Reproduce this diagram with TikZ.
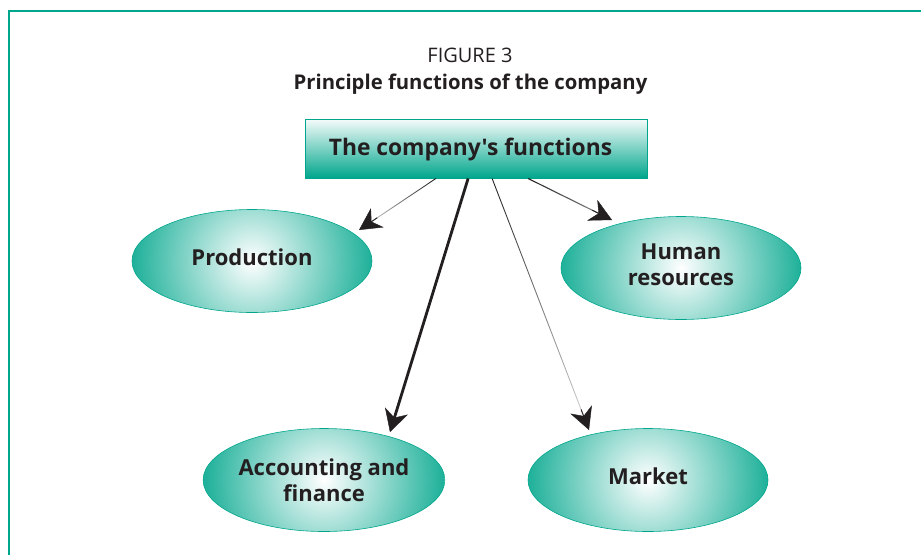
\documentclass[tikz,border=0pt]{standalone}
\usepackage{fontspec}
\setmainfont{Open Sans}
% separate family without TeX ligatures, so ' stays a straight apostrophe
\newfontfamily\basefont{Open Sans}
\usetikzlibrary{arrows.meta,calc,shapes.geometric,fadings}

\definecolor{brandteal}{RGB}{0,166,140}
\definecolor{inkgray}{RGB}{35,31,32}

% stroke fadings: opaque at the top, thinning out towards the bottom
\tikzfading[name=strokefade, top color=transparent!0, bottom color=transparent!80]
\tikzfading[name=strokefadesoft, top color=transparent!0, bottom color=transparent!45]

\begin{document}
\begin{tikzpicture}[x=1pt, y=-1pt,
  every node/.style={text=inkgray},
  oval/.style={ellipse, minimum width=240pt, minimum height=103pt, inner sep=0pt,
    draw=brandteal, line width=0.6pt, align=center,
    font=\basefont\fontsize{22}{26}\selectfont\bfseries,
    path picture={\shade[inner color=white, outer color=brandteal]
      (path picture bounding box.center) circle (136pt);}},
  headbox/.style={rectangle, minimum width=342pt, minimum height=59pt, inner sep=0pt,
    draw=brandteal, line width=1pt, top color=brandteal!4, bottom color=brandteal,
    font=\basefont\fontsize{22.8}{28}\selectfont\bfseries, text height=13pt, text depth=0pt},
  link/.style={draw=inkgray, line width=0.9pt},
  tipshape/.style={-{Stealth[length=22pt, width=23pt, inset=7pt, line width=0.4pt]}, draw=inkgray, fill=inkgray, line width=0.9pt},
  frameline/.style={draw=brandteal, line width=2pt}
]
\useasboundingbox (0,0) rectangle (921,555);

% outer frame (left and top edges)
\coordinate (fbl) at (8.5,555);
\coordinate (ftl) at (8.5,10.5);
\coordinate (ftr) at (921,10.5);
\draw[frameline] (fbl) -- (ftl) -- (ftr);

% caption
\node[anchor=base, font=\basefont\fontsize{20}{24}\selectfont] (figno) at (470,62) {FIGURE 3};
\node[anchor=base, font=\basefont\fontsize{20.3}{24}\selectfont\bfseries] (caption) at (470.5,89) {Principle functions of the company};

% root box
\node[headbox] (top) at (476,148.5) {\hspace*{-11pt}The company's functions};

% function ovals
\node[oval, text height=8pt, text depth=0pt] (prod) at (252,261) {Production};
\node[oval, text depth=6pt] (hr) at (681,268) {Human\\resources};
\node[oval] (acc) at (324,480) {Accounting and\\finance};
\node[oval, text height=8pt, text depth=0pt] (mkt) at (648,480) {Market};

% connector start points on the lower edge of the root box
\coordinate (s1) at ($(top.south west)!0.383!(top.south east)$);
\coordinate (s2) at ($(top.south west)!0.477!(top.south east)$);
\coordinate (s3) at ($(top.south west)!0.547!(top.south east)$);
\coordinate (s4) at ($(top.south west)!0.652!(top.south east)$);

% arrow tips next to each oval
\coordinate (e1) at ($(prod.center)+(107,-31)$);
\coordinate (e2) at ($(acc.center)+(66,-48)$);
\coordinate (e3) at ($(mkt.center)+(-59,-50)$);
\coordinate (e4) at ($(hr.center)+(-69,-48)$);

% Production
\draw[link, line width=0.9pt, path fading=strokefade] (s1) -- ($(e1)!14pt!(s1)$);
\draw[tipshape] ($(e1)!22pt!(s1)$) -- (e1);

% Human resources
\draw[link, line width=1.1pt, path fading=strokefadesoft] (s4) -- ($(e4)!14pt!(s4)$);
\draw[tipshape] ($(e4)!22pt!(s4)$) -- (e4);

% Accounting and finance
\draw[link, line width=2.8pt, -{Stealth[length=22pt, width=24pt, inset=7pt, line width=0.4pt]}] (s2) -- (e2);

% Market
\draw[link, line width=0.9pt, path fading=strokefade] (s3) -- ($(e3)!14pt!(s3)$);
\draw[tipshape] ($(e3)!22pt!(s3)$) -- (e3);
\end{tikzpicture}
\end{document}
